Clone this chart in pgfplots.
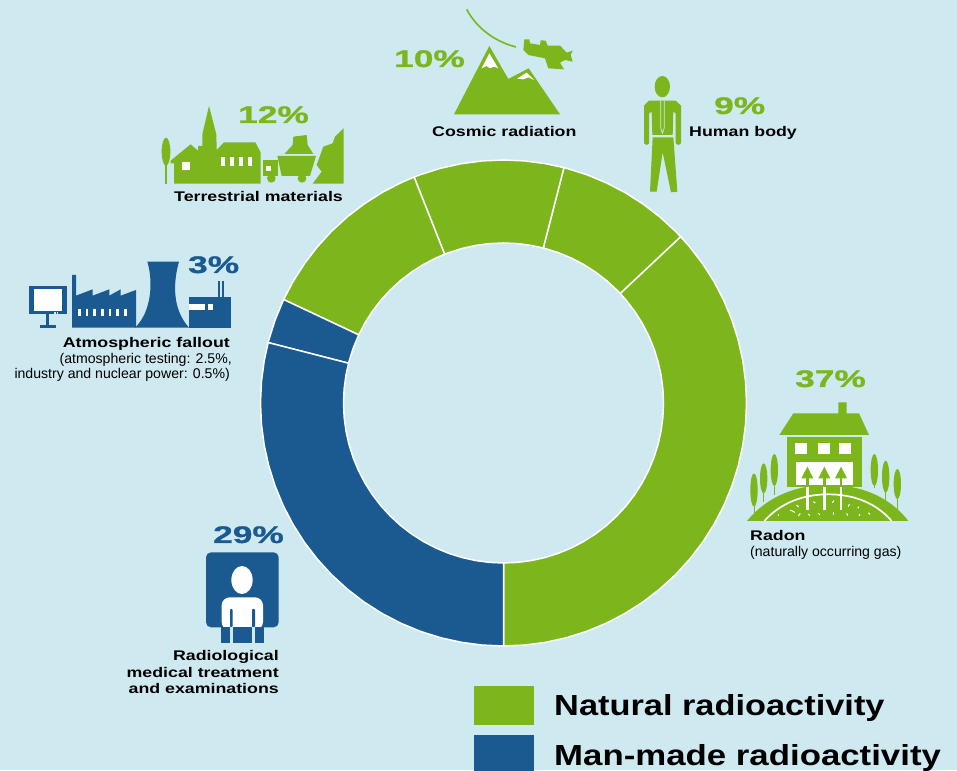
\documentclass[border=0pt]{standalone}
\usepackage{fontspec}
\usepackage{pgfplots}
\pgfplotsset{compat=1.18}
\setmainfont{Liberation Sans}
\newfontfamily\wide[FakeStretch=1.27]{Liberation Sans}
\newfontfamily\legf[FakeStretch=1.185]{Liberation Sans}
\newfontfamily\legg[FakeStretch=1.2]{Liberation Sans}
\newfontfamily\wider[FakeStretch=1.47,FakeBold=1]{Liberation Sans}
\definecolor{bgc}{RGB}{207,233,241}
\definecolor{gr}{RGB}{124,181,28}
\definecolor{bl}{RGB}{26,90,144}
\tikzset{zoom/.style 2 args={shift={(#1pt,{(770-#2)*1pt})},x=0.33333pt,y=-0.33333pt},
 px/.style={shift={(0pt,770pt)},x=1pt,y=-1pt},
 pct/.style={font=\fontsize{24}{24}\selectfont\wider\bfseries,anchor=base west,inner sep=0pt},
 lb/.style={font=\fontsize{14}{15}\selectfont\wide\bfseries,inner sep=0pt},
 rg/.style={font=\fontsize{14.1}{15}\selectfont,inner sep=0pt}}
\begin{document}
\begin{tikzpicture}
\path[use as bounding box,clip] (0pt,0pt) rectangle (957pt,770pt);
\fill[bgc] (0pt,0pt) rectangle (957pt,770pt);
\begin{axis}[at={(0pt,0pt)},anchor=south west,scale only axis,width=957pt,height=770pt,
  xmin=-503.5,xmax=453.5,ymin=-367,ymax=403,axis lines=none,clip=false]
% Radon 37%
\addplot[data cs=polar,draw=white,fill=gr,line width=1.5pt,line join=round] coordinates {
(-90,243)(-85,243)(-80,243)(-75,243)(-70,243)(-65,243)(-60,243)(-55,243)(-50,243)(-45,243)(-40,243)(-35,243)(-30,243)(-25,243)(-20,243)(-15,243)(-10,243)(-5,243)(0,243)(5,243)(10,243)(15,243)(20,243)(25,243)(30,243)(35,243)(40,243)(43.2,243)
(43.2,160)(40,160)(35,160)(30,160)(25,160)(20,160)(15,160)(10,160)(5,160)(0,160)(-5,160)(-10,160)(-15,160)(-20,160)(-25,160)(-30,160)(-35,160)(-40,160)(-45,160)(-50,160)(-55,160)(-60,160)(-65,160)(-70,160)(-75,160)(-80,160)(-85,160)(-90,160)} --cycle;
% Human body 9%
\addplot[data cs=polar,draw=white,fill=gr,line width=1.5pt,line join=round] coordinates {
(43.2,243)(45,243)(50,243)(55,243)(60,243)(65,243)(70,243)(75,243)(75.6,243)
(75.6,160)(75,160)(70,160)(65,160)(60,160)(55,160)(50,160)(45,160)(43.2,160)} --cycle;
% Cosmic radiation 10%
\addplot[data cs=polar,draw=white,fill=gr,line width=1.5pt,line join=round] coordinates {
(75.6,243)(80,243)(85,243)(90,243)(95,243)(100,243)(105,243)(110,243)(111.6,243)
(111.6,160)(110,160)(105,160)(100,160)(95,160)(90,160)(85,160)(80,160)(75.6,160)} --cycle;
% Terrestrial materials 12%
\addplot[data cs=polar,draw=white,fill=gr,line width=1.5pt,line join=round] coordinates {
(111.6,243)(115,243)(120,243)(125,243)(130,243)(135,243)(140,243)(145,243)(150,243)(154.8,243)
(154.8,160)(150,160)(145,160)(140,160)(135,160)(130,160)(125,160)(120,160)(115,160)(111.6,160)} --cycle;
% Atmospheric fallout 3%
\addplot[data cs=polar,draw=white,fill=bl,line width=1.5pt,line join=round] coordinates {
(154.8,243)(160,243)(165,243)(165.6,243)
(165.6,160)(165,160)(160,160)(154.8,160)} --cycle;
% Radiological medical 29%
\addplot[data cs=polar,draw=white,fill=bl,line width=1.5pt,line join=round] coordinates {
(165.6,243)(170,243)(175,243)(180,243)(185,243)(190,243)(195,243)(200,243)(205,243)(210,243)(215,243)(220,243)(225,243)(230,243)(235,243)(240,243)(245,243)(250,243)(255,243)(260,243)(265,243)(270,243)
(270,160)(265,160)(260,160)(255,160)(250,160)(245,160)(240,160)(235,160)(230,160)(225,160)(220,160)(215,160)(210,160)(205,160)(200,160)(195,160)(190,160)(185,160)(180,160)(175,160)(170,160)(165.6,160)} --cycle;
\end{axis}

% Cosmic icon
\begin{scope}[zoom={380}{0}]
\draw[gr,line width=1.6pt] (260,28) .. controls (290,85) and (345,125) .. (408,141);
\fill[gr] (328,138)--(385,237)--(446,205)--(540,343)--(222,343)--cycle;
\fill[white] (328,160)--(355,205)--(342,200)--(330,205)--(320,198)--(305,205)--cycle;
\fill[white] (440,218)--(462,240)--(445,232)--(430,238)--(411,236)--cycle;
\fill[gr] (433,118)--(448,118)--(450,130)--(480,135)--(482,121)--(497,122)--(503,137)--(540,137)--(560,158)--(578,152)--(572,165)--(578,185)--(555,180)--(540,188)--(552,208)--(505,205)--(495,175)--(445,165)--(430,150)--cycle;
\end{scope}
% Terrestrial icon
\begin{scope}[zoom={150}{95}]
\fill[gr] (48,170) ellipse [x radius=13,y radius=42];
\fill[gr] (45,200) rectangle (51,267);
\fill[gr] (62,197)--(122,148)--(144,167)--(144,153)--(157,153)--(157,118)--(177,33)--(199,118)--(200,165)--(222,142)--(316,142)--(332,172)--(332,266)--(72,266)--(72,205)--(62,205)--cycle;
\fill[white] (97,202) rectangle (120,225);
\foreach \a in {213,240,267,294} \fill[white] (\a,187) rectangle (\a+11,213);
\fill[gr] (339,195) rectangle (385,243);
\fill[gr] (364,250) circle [x radius=13,y radius=13];
\fill[white] (347,213) rectangle (363,228);
\fill[gr] (382,183)--(498,183)--(480,243)--(395,243)--cycle;
\fill[gr] (456,250) circle [x radius=13,y radius=13];
\fill[gr] (403,177)--(428,150)--(430,125)--(470,120)--(473,150)--(490,177)--cycle;
\fill[gr] (488,266)--(515,230)--(500,210)--(520,155)--(548,145)--(555,125)--(581,100)--(581,266)--cycle;
\end{scope}
% Human icon
\begin{scope}[zoom={630}{65}]
\fill[gr] (97,65) ellipse [x radius=23,y radius=32];
\fill[gr] (57,107)--(137,107)--(153,122)--(153,235)--(145,240)--(137,235)--(137,145)--(130,140)--(128,210)--(67,210)--(65,140)--(57,145)--(57,235)--(50,240)--(42,235)--(42,122)--cycle;
\draw[bgc,line width=0.7pt] (92,108)--(92,188)--(97,205)--(103,188)--(103,108);
\fill[gr] (68,217)--(130,217)--(142,380)--(123,382)--(98,262)--(80,380)--(60,380)--cycle;
\end{scope}
% Atmospheric icon
\begin{scope}[zoom={5}{245}]
\fill[bl] (72,123) rectangle (186,208);
\fill[white] (87,133) rectangle (172,198);
\fill[bgc] (147,202) rectangle (152,206);
\fill[bgc] (155,202) rectangle (160,206);
\fill[bl] (122,208) rectangle (133,240);
\fill[bl] (105,240) rectangle (153,248);
\fill[bl] (201,90)--(213,90)--(213,152)--(263,133)--(263,152)--(313,133)--(313,152)--(347,133)--(347,152)--(393,135)--(393,248)--(201,248)--cycle;
\foreach \a in {219,242,265,288,311,334,357} \fill[white] (\a,192) rectangle (\a+8,213);
\fill[bl] (427,50)--(522,50) .. controls (505,110) and (500,190) .. (552,248) -- (390,248) .. controls (440,200) and (445,110) .. (427,50) --cycle;
\fill[bl] (552,157) rectangle (678,248);
\fill[white] (552,177) rectangle (600,194);
\fill[white] (610,177) rectangle (624,194);
\fill[bl] (640,108) rectangle (646,157);
\fill[bl] (652,108) rectangle (658,157);
\end{scope}
% Radon icon
\begin{scope}[zoom={735}{360}]
\foreach \cx/\cy/\ry/\b in {57/390/50/460,86/355/45/425,118/330/48/405,418/330/48/385,452/350/48/420,487/372/45/450}{
 \fill[gr] (\cx,\cy) ellipse [x radius=11,y radius=\ry];
 \fill[gr] (\cx-1.5,\cy) rectangle (\cx+1.5,\b);}
\fill[gr] (175,160)--(310,160)--(310,127)--(335,127)--(335,160)--(372,160)--(402,225)--(133,225)--cycle;
\fill[gr] (157,232) rectangle (380,380);
\foreach \a/\c in {180/216,249/285,312/348} \fill[white] (\a,250) rectangle (\c,282);
\fill[white] (182,306) rectangle (355,375);
\fill[gr] (36,483) .. controls (100,405) and (190,375) .. (280,375) .. controls (370,375) and (460,405) .. (520,483) --cycle;
\foreach \a in {217,268,318}{
 \fill[gr] (\a,320)--(\a+18,355)--(\a-18,355)--cycle;
 \fill[gr] (\a-3.5,355) rectangle (\a+3.5,380);
 \fill[white] (\a-3.5,380) rectangle (\a+3.5,450);}
\draw[white,line width=1.7pt] (88,483) .. controls (140,425) and (210,403) .. (280,403) .. controls (350,403) and (420,425) .. (470,483);
\draw[white,line width=1pt] (165,450)--(180,457) (185,435)--(191,441) (235,425)--(241,429) (292,428)--(297,422) (340,440)--(343,432) (368,445)--(372,440) (130,463)--(130,467) (190,468)--(196,460) (220,462)--(224,467) (250,460)--(255,465) (295,456)--(295,464) (335,460)--(338,467) (372,467)--(375,462) (400,458)--(405,463);
\end{scope}
% Medical icon
\begin{scope}[zoom={115}{515}]
\fill[bl,rounded corners=5pt] (273,112) rectangle (491,337);
\fill[white] (381,195) ellipse [x radius=32,y radius=42];
\fill[white,rounded corners=8pt] (320,345)--(320,247)--(444,247)--(444,345)--cycle;
\fill[bl] (318,337) rectangle (345,383);
\fill[bl] (355,337) rectangle (411,383);
\fill[bl] (420,337) rectangle (447,383);
\fill[bl,rounded corners=1pt] (345,282) rectangle (353,337);
\fill[bl,rounded corners=1pt] (411,282) rectangle (420,337);
\fill[bgc] (345,337) rectangle (355,383);
\fill[bgc] (411,337) rectangle (420,383);
\end{scope}

\begin{scope}[px]
% Percent labels
\node[pct,gr] at (394,67) {10\%};
\node[pct,gr] at (238,123) {12\%};
\node[pct,gr] at (714,114) {9\%};
\node[pct,bl] at (188,273) {3\%};
\node[pct,gr] at (795,387) {37\%};
\node[pct,bl] at (213,543) {29\%};
% Labels
\node[lb,anchor=base west] at (432,137) {Cosmic radiation};
\node[lb,anchor=base west] at (174,202) {Terrestrial materials};
\node[lb,anchor=base west] at (689,137) {Human body};
\node[lb,anchor=base east] at (230,348) {Atmospheric fallout};
\node[rg,anchor=base east] at (232,364) {(atmospheric testing: 2.5\%,};
\node[rg,anchor=base east] at (230,379) {industry and nuclear power: 0.5\%)};
\node[lb,anchor=base west] at (750,541) {Radon};
\node[rg,anchor=base west] at (750,557) {(naturally occurring gas)};
\node[lb,anchor=base east] at (279,661) {Radiological};
\node[lb,anchor=base east] at (279,678) {medical treatment};
\node[lb,anchor=base east] at (279,694) {and examinations};
% Legend
\fill[gr] (474,686) rectangle (534,725);
\fill[bl] (474,735) rectangle (534,775);
\node[font=\fontsize{29}{30}\selectfont\legf\bfseries,anchor=base west,inner sep=0pt] at (554,716) {Natural radioactivity};
\node[font=\fontsize{29}{30}\selectfont\legg\bfseries,anchor=base west,inner sep=0pt] at (554,765) {Man-made radioactivity};
\end{scope}
\end{tikzpicture}
\end{document}
